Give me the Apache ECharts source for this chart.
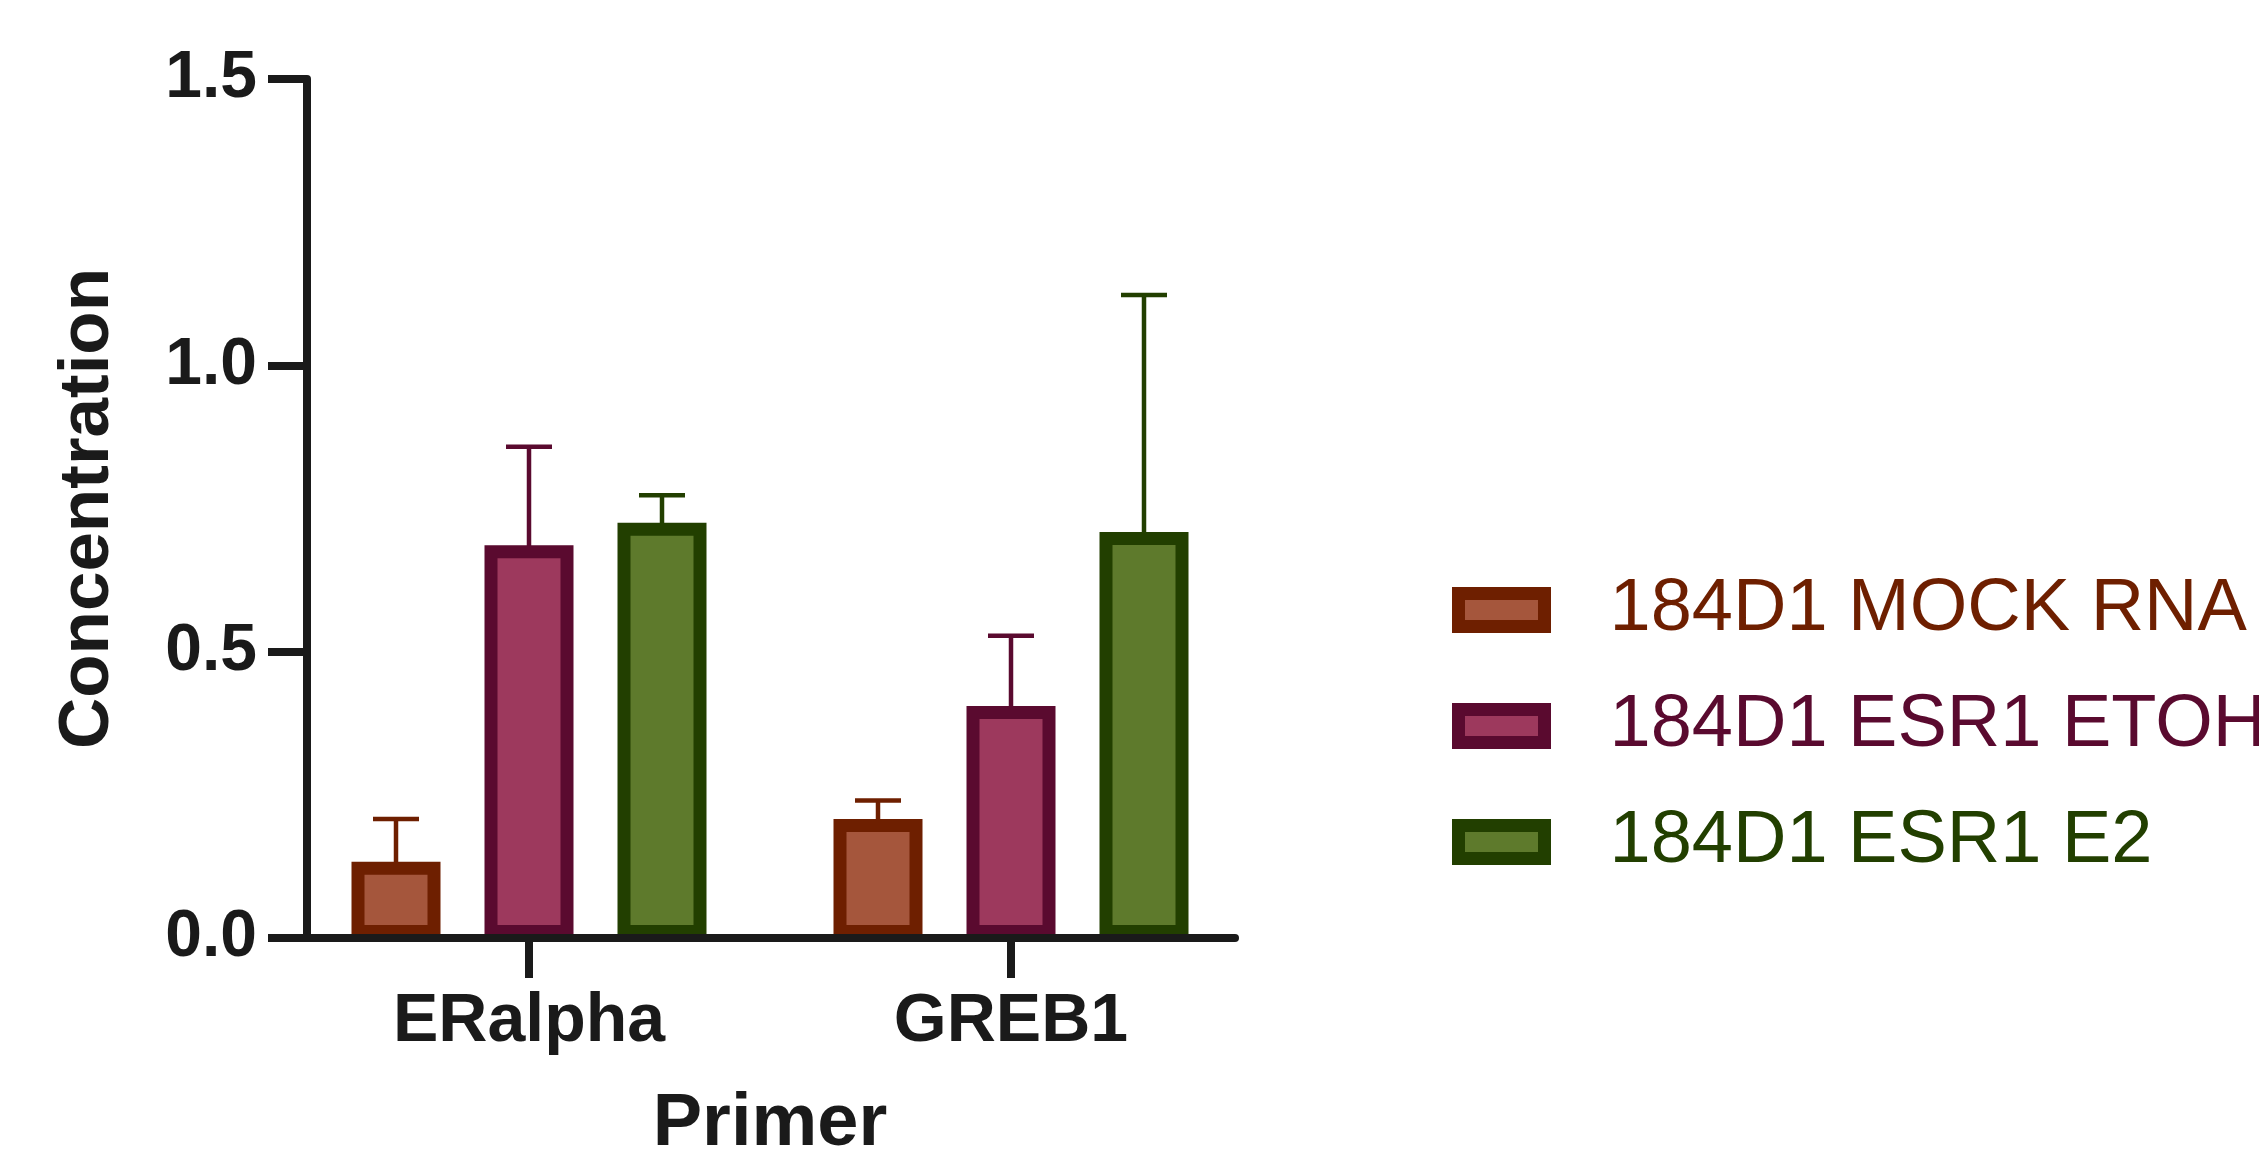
<!DOCTYPE html>
<html>
<head>
<meta charset="utf-8">
<script src="https://cdn.jsdelivr.net/npm/echarts@6/dist/echarts.min.js"></script>
<style>html,body{margin:0;padding:0;background:#fff;}#c{width:2259px;height:1149px;}</style>
</head>
<body>
<div id="c"></div>
<script>
const categories = ['ERalpha', 'GREB1'];
const seriesNames = ['184D1 MOCK RNA', '184D1 ESR1 ETOH', '184D1 ESR1 E2'];
const mockMean = [0.133, 0.208];
const mockSD = [0.075, 0.032];
const etohMean = [0.686, 0.405];
const etohSD = [0.172, 0.123];
const e2Mean = [0.725, 0.709];
const e2SD = [0.048, 0.414];
const yTicks = [0, 0.5, 1.0, 1.5];

const means = [mockMean, etohMean, e2Mean];
const sds = [mockSD, etohSD, e2SD];
const fills = ['#a5563c', '#9d395d', '#5e7a2c'];
const borders = ['#6e1f00', '#5a0a2f', '#223f00'];
const AXIS = '#1a1a1a';
const FONT = '"Liberation Sans", Arial, sans-serif';
const BAR_W = 89;
const BAR_GAP = 44;
const STEP = BAR_W + BAR_GAP;

const chart = echarts.init(document.getElementById('c'));
const series = [];
means.forEach((m, i) => {
  series.push({
    name: seriesNames[i], type: 'bar', xAxisIndex: 1, yAxisIndex: 1,
    barWidth: BAR_W, barGap: (BAR_GAP / BAR_W * 100) + '%',
    data: m,
    itemStyle: {color: fills[i], borderColor: borders[i], borderWidth: 13},
    z: 3
  });
});
means.forEach((m, i) => {
  series.push({
    name: 'err' + i, type: 'custom', xAxisIndex: 1, yAxisIndex: 1,
    data: m.map((v, j) => [j, v, sds[i][j]]),
    z: 2,
    renderItem: function (params, api) {
      const p0 = api.coord([api.value(0), api.value(1)]);
      const p1 = api.coord([api.value(0), api.value(1) + api.value(2)]);
      const x = p0[0] + (i - 1) * STEP;
      const st = {stroke: borders[i], lineWidth: 4.5};
      return {type: 'group', children: [
        {type: 'line', shape: {x1: x, y1: p0[1] + 8, x2: x, y2: p1[1]}, style: st},
        {type: 'line', shape: {x1: x - 23, y1: p1[1], x2: x + 23, y2: p1[1]}, style: st}
      ]};
    }
  });
});

chart.setOption({
  animation: false,
  backgroundColor: '#fff',
  grid: [
    {left: 307, right: 1024, top: 79, bottom: 211, outerBoundsMode: 'none'},
    {left: 288, right: 1007, top: 79, bottom: 211, outerBoundsMode: 'none'}
  ],
  legend: {
    data: seriesNames.map((n, i) => ({
      name: n, textStyle: {color: borders[i]},
      icon: 'rect',
      itemStyle: {color: fills[i], borderColor: borders[i], borderWidth: 13}
    })),
    orient: 'vertical', left: 1452, top: 573, padding: 0,
    itemWidth: 86, itemHeight: 33, itemGap: 42,
    textStyle: {fontFamily: FONT, fontSize: 74, padding: [0, 0, 0, 60]}
  },
  xAxis: [
    {gridIndex: 0, type: 'value', min: 0, max: 1, z: 10,
     axisLine: {show: true, lineStyle: {color: AXIS, width: 8}},
     axisTick: {show: false}, axisLabel: {show: false}, splitLine: {show: false}},
    {gridIndex: 1, type: 'category', data: categories,
     axisLine: {show: false},
     axisTick: {show: true, alignWithLabel: true, length: 40, lineStyle: {color: AXIS, width: 8}},
     axisLabel: {margin: 50, color: AXIS, fontFamily: FONT, fontWeight: 'bold', fontSize: 68},
     name: 'Primer', nameLocation: 'middle', nameGap: 150,
     nameTextStyle: {color: AXIS, fontFamily: FONT, fontWeight: 'bold', fontSize: 74}}
  ],
  yAxis: [
    {gridIndex: 0, type: 'value', min: yTicks[0], max: yTicks[yTicks.length - 1], interval: 0.5, z: 10,
     axisLine: {show: true, lineStyle: {color: AXIS, width: 8}},
     axisTick: {show: true, length: 39, lineStyle: {color: AXIS, width: 8}},
     axisLabel: {margin: 50, color: AXIS, fontFamily: FONT, fontWeight: 'bold', fontSize: 66,
       formatter: v => v.toFixed(1)},
     splitLine: {show: false},
     name: 'Concentration', nameLocation: 'middle', nameGap: 183,
     nameTextStyle: {color: AXIS, fontFamily: FONT, fontWeight: 'bold', fontSize: 71}},
    {gridIndex: 1, type: 'value', min: yTicks[0], max: yTicks[yTicks.length - 1], interval: 0.5, show: false}
  ],
  series: series
});
</script>
</body>
</html>
